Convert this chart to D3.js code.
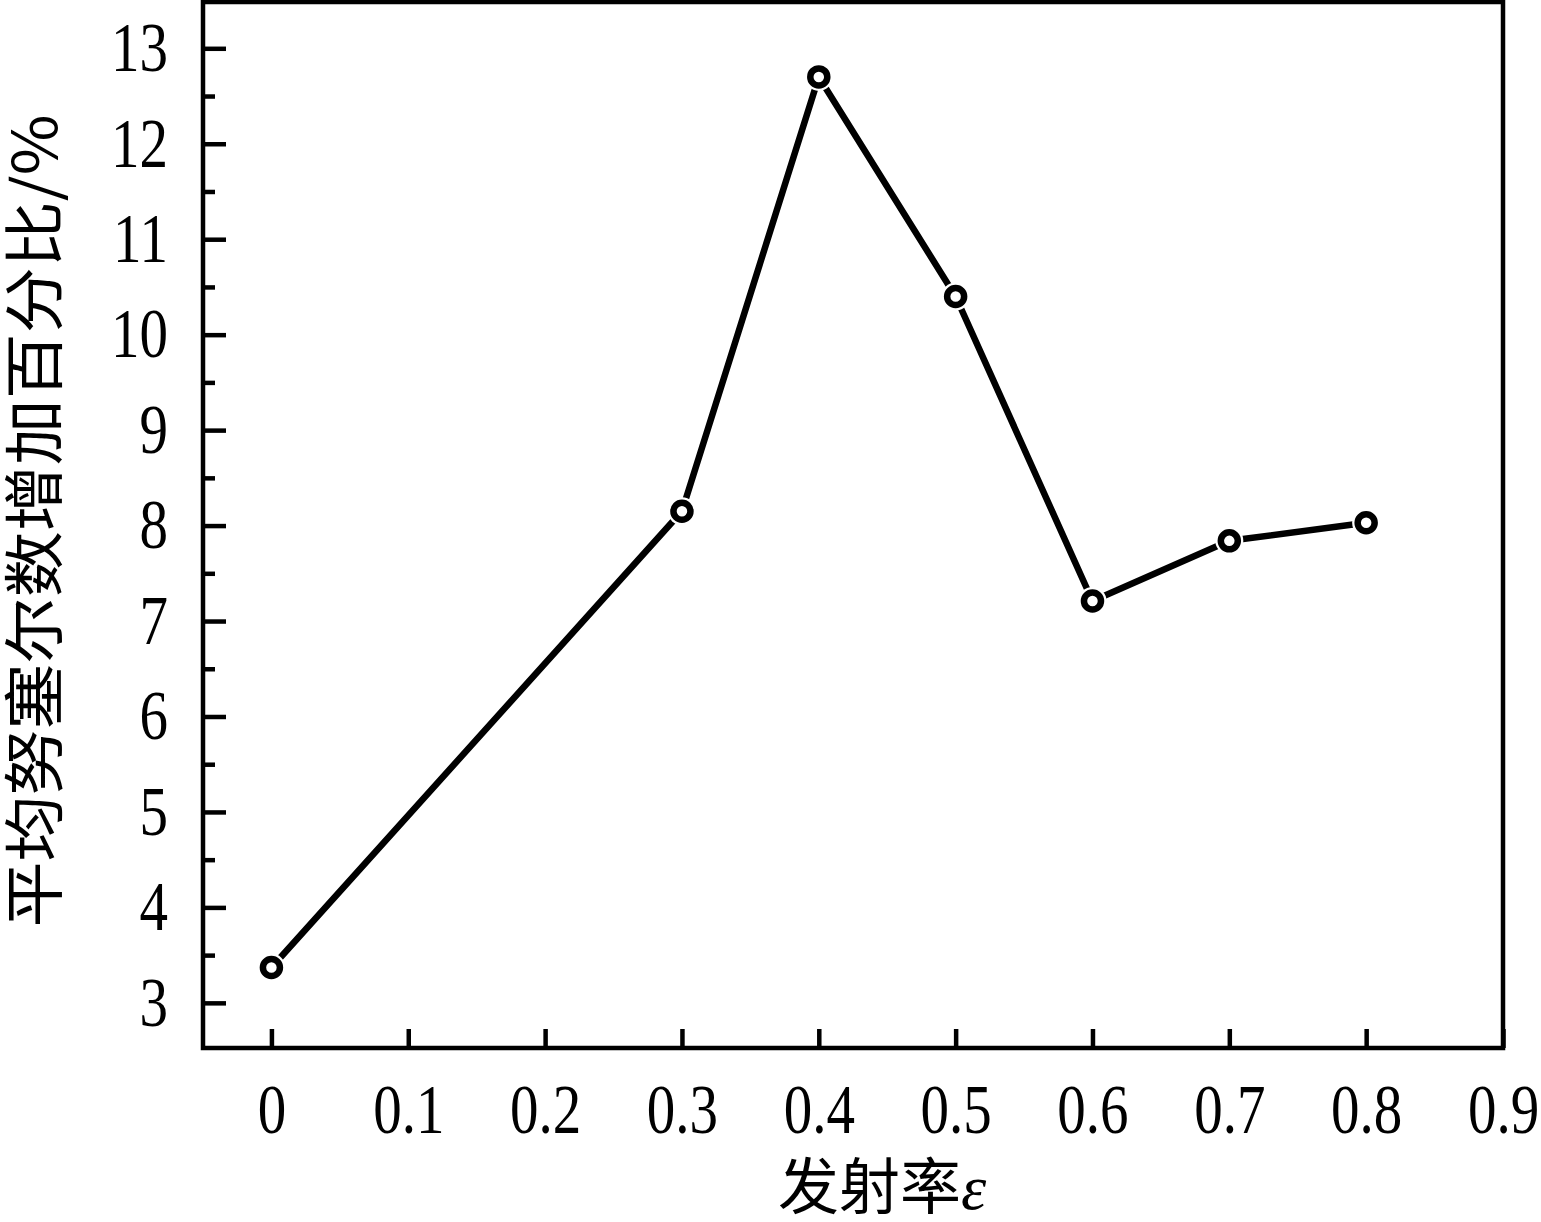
<!DOCTYPE html>
<html>
<head>
<meta charset="utf-8">
<script src="https://cdn.jsdelivr.net/npm/d3@7"></script>
<style>
  body { margin: 0; background: #fff; }
  svg { display: block; }
</style>
</head>
<body>
<div id="chart"></div>
<script>
// data
var emissivity = [0, 0.3, 0.4, 0.5, 0.6, 0.7, 0.8];
var nuIncrease = [3.37, 8.15, 12.70, 10.40, 7.21, 7.84, 8.03];
var xTicks = [0, 0.1, 0.2, 0.3, 0.4, 0.5, 0.6, 0.7, 0.8, 0.9];
var xTickLabels = ["0", "0.1", "0.2", "0.3", "0.4", "0.5", "0.6", "0.7", "0.8", "0.9"];
var yTicks = [3, 4, 5, 6, 7, 8, 9, 10, 11, 12, 13];
var yMinorTicks = [3.5, 4.5, 5.5, 6.5, 7.5, 8.5, 9.5, 10.5, 11.5, 12.5];
var xTitle = "发射率";
var xTitleSymbol = "ε";
var yTitle = "平均努塞尔数增加百分比/%";

window.onload = init;

function init() {
  const width = 1541;
  const height = 1222;
  const left = 203, right = 1503, top = 2, bottom = 1048;
  const stretch = 1.22; // the reference glyphs are drawn taller than wide
  const numFont = "'Liberation Serif', 'Times New Roman', serif";
  const cjkFont = "'Noto Sans CJK SC', 'Liberation Serif', serif";

  const svg = d3.select("#chart")
                .append("svg")
                .attr("width", width)
                .attr("height", height);

  const xScale = d3.scaleLinear()
                   .domain([-0.05, 0.9])
                   .range([left, right]);

  const yScale = d3.scaleLinear()
                   .domain([2.527, 13.485])
                   .range([bottom, top]);

  // x axis, ticks pointing inward
  const xAxis = d3.axisBottom(xScale)
                  .tickValues(xTicks)
                  .tickSize(-19)
                  .tickFormat((d, i) => xTickLabels[i]);
  const xAxisGroup = svg.append("g")
                        .attr("id", "x-axis")
                        .attr("transform", "translate(0," + bottom + ")")
                        .call(xAxis);
  xAxisGroup.select(".domain").remove();
  xAxisGroup.selectAll(".tick line").attr("stroke", "#000").attr("stroke-width", 4.5);
  xAxisGroup.selectAll(".tick text")
            .attr("y", 0)
            .attr("dy", 0)
            .attr("transform", "scale(1," + stretch + ") translate(0,69.5)")
            .attr("fill", "#000")
            .style("font-family", numFont)
            .style("font-size", "57px");

  // y axis, major and minor ticks inward
  const yAxis = d3.axisLeft(yScale)
                  .tickValues(yTicks)
                  .tickSize(-23)
                  .tickPadding(35)
                  .tickFormat(d3.format("d"));
  const yAxisGroup = svg.append("g")
                        .attr("id", "y-axis")
                        .attr("transform", "translate(" + left + ",0)")
                        .call(yAxis);
  yAxisGroup.select(".domain").remove();
  yAxisGroup.selectAll(".tick line").attr("stroke", "#000").attr("stroke-width", 4.5);
  yAxisGroup.selectAll(".tick text")
            .attr("transform", "scale(1," + stretch + ")")
            .attr("fill", "#000")
            .style("font-family", numFont)
            .style("font-size", "57px");

  const yMinor = d3.axisLeft(yScale)
                   .tickValues(yMinorTicks)
                   .tickSize(-12)
                   .tickFormat("");
  const yMinorGroup = svg.append("g")
                         .attr("transform", "translate(" + left + ",0)")
                         .call(yMinor);
  yMinorGroup.select(".domain").remove();
  yMinorGroup.selectAll(".tick line").attr("stroke", "#000").attr("stroke-width", 4.5);

  // frame
  svg.append("rect")
     .attr("x", left)
     .attr("y", top)
     .attr("width", right - left)
     .attr("height", bottom - top)
     .attr("fill", "none")
     .attr("stroke", "#000")
     .attr("stroke-width", 4.5);

  const points = emissivity.map((e, i) => [e, nuIncrease[i]]);

  const line = d3.line()
                 .x(d => xScale(d[0]))
                 .y(d => yScale(d[1]));

  svg.append("path")
     .datum(points)
     .attr("d", line)
     .attr("fill", "none")
     .attr("stroke", "#000")
     .attr("stroke-width", 6.5)
     .attr("stroke-linejoin", "round");

  // white halo so the line stops short of each marker
  svg.selectAll("circle.halo")
     .data(points)
     .enter()
     .append("circle")
     .attr("class", "halo")
     .attr("cx", d => xScale(d[0]))
     .attr("cy", d => yScale(d[1]))
     .attr("r", 14)
     .attr("fill", "#fff");

  svg.selectAll("circle.dot")
     .data(points)
     .enter()
     .append("circle")
     .attr("class", "dot")
     .attr("cx", d => xScale(d[0]))
     .attr("cy", d => yScale(d[1]))
     .attr("r", 8.5)
     .attr("fill", "#fff")
     .attr("stroke", "#000")
     .attr("stroke-width", 6.5);

  // axis titles
  const xt = svg.append("text")
                .attr("x", 778)
                .attr("y", 1209)
                .attr("fill", "#000")
                .style("font-family", cjkFont)
                .style("font-size", "61px");
  xt.append("tspan").text(xTitle);
  xt.append("tspan")
    .style("font-family", numFont)
    .style("font-style", "italic")
    .style("font-size", "64px")
    .text(xTitleSymbol);

  svg.append("text")
     .attr("transform", "translate(57,521) rotate(-90)")
     .attr("text-anchor", "middle")
     .attr("textLength", 813)
     .attr("lengthAdjust", "spacingAndGlyphs")
     .attr("fill", "#000")
     .style("font-family", cjkFont)
     .style("font-size", "61px")
     .text(yTitle);
}
</script>
</body>
</html>
